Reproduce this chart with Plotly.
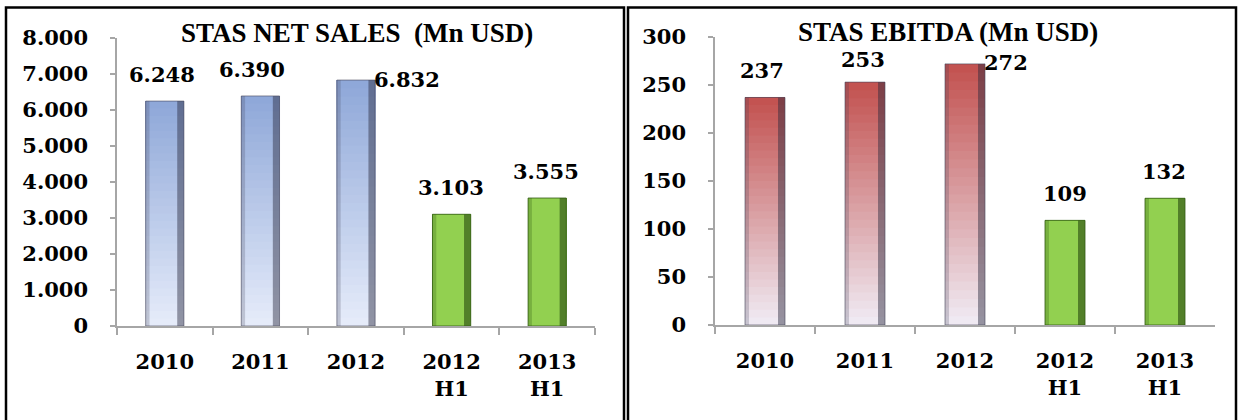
import plotly.graph_objects as go

# ---------------- data ----------------
categories = ["2010", "2011", "2012", "2012<br>H1", "2013<br>H1"]
is_half_year = [False, False, False, True, True]
net_sales = [6248, 6390, 6832, 3103, 3555]
ebitda = [237, 253, 272, 109, 132]
sales_ticks = [0, 1000, 2000, 3000, 4000, 5000, 6000, 7000, 8000]
ebitda_ticks = [0, 50, 100, 150, 200, 250, 300]
title_sales = "STAS NET SALES\u00a0 (Mn USD)"
title_ebitda = "STAS EBITDA (Mn USD)"

# ---------------- styles ----------------
label_place_sales = ["top", "top", "right", "top", "top"]
label_dx_sales = [-3, -8, 0, -1, -1]
label_dy_sales = [0, 0, 0, 0, 0]
label_place_ebitda = ["top", "top", "right", "top", "top"]
label_dx_ebitda = [-3, -2, 0, 0, -1]
label_dy_ebitda = [0, -4, 0, 0, 0]

BLUE_TOP = (142, 167, 216)
BLUE_BOT = (230, 236, 250)
RED_TOP = (194, 80, 78)
RED_BOT = (240, 236, 245)
GREEN = "rgb(146,208,80)"
N_SEG = 30
BAR_W = 0.4
NUM_FONT = dict(family="DejaVu Serif", size=21, color="black", weight="bold")
TITLE_FONT = dict(family="Liberation Serif", size=27, color="black", weight="bold")
AXIS_GREY = "#A6A6A6"


def mix(c1, c2, t):
    return "rgb(%d,%d,%d)" % tuple(round(a + (b - a) * t) for a, b in zip(c1, c2))


def add_bars(fig, values, top, bot, xa, ya):
    # vertical gradient: each layer starts higher and overlays the previous one
    for k in range(N_SEG):
        frac0 = k / N_SEG
        t = (k + 0.5) / N_SEG
        colors = [GREEN if h else mix(bot, top, t) for h in is_half_year]
        fig.add_trace(go.Bar(
            x=categories, y=[v * (1 - frac0) for v in values],
            base=[v * frac0 for v in values],
            width=BAR_W, marker=dict(color=colors, line=dict(width=0)),
            xaxis=xa, yaxis=ya, hoverinfo="skip", showlegend=False))
    # dark right edge and faint left edge (bevel look)
    fig.add_trace(go.Bar(
        x=categories, y=values, width=0.07, offset=BAR_W / 2 - 0.07,
        marker=dict(color=["rgba(30,60,10,0.55)" if h else "rgba(40,40,60,0.45)"
                           for h in is_half_year], line=dict(width=0)),
        xaxis=xa, yaxis=ya, hoverinfo="skip", showlegend=False))
    fig.add_trace(go.Bar(
        x=categories, y=values, width=0.04, offset=-BAR_W / 2,
        marker=dict(color=["rgba(40,80,10,0.25)" if h else "rgba(60,60,80,0.22)"
                           for h in is_half_year], line=dict(width=0)),
        xaxis=xa, yaxis=ya, hoverinfo="skip", showlegend=False))
    # outline
    fig.add_trace(go.Bar(
        x=categories, y=values, width=BAR_W,
        marker=dict(color="rgba(0,0,0,0)",
                    line=dict(width=1, color=["rgba(50,90,20,0.8)" if h else "rgba(70,70,90,0.6)"
                                              for h in is_half_year])),
        xaxis=xa, yaxis=ya, hoverinfo="skip", showlegend=False))


def fmt(v):
    return f"{v:,}".replace(",", ".")


def add_labels(fig, values, places, dxs, dys, xr, yr, half_px):
    for i, (v, p, dx, dy) in enumerate(zip(values, places, dxs, dys)):
        if p == "top":
            fig.add_annotation(x=i, y=v, xref=xr, yref=yr, text=fmt(v), showarrow=False,
                               xanchor="center", yanchor="bottom", xshift=dx, yshift=12 + dy,
                               font=NUM_FONT)
        else:
            fig.add_annotation(x=i, y=v, xref=xr, yref=yr, text=fmt(v), showarrow=False,
                               xanchor="left", yanchor="middle", xshift=half_px - 4, yshift=1 + dy,
                               font=NUM_FONT)


fig = go.Figure()
add_bars(fig, net_sales, BLUE_TOP, BLUE_BOT, "x", "y")
add_bars(fig, ebitda, RED_TOP, RED_BOT, "x2", "y2")

W, H = 1240, 420
add_labels(fig, net_sales, label_place_sales, label_dx_sales, label_dy_sales, "x", "y", 20)
add_labels(fig, ebitda, label_place_ebitda, label_dx_ebitda, label_dy_ebitda, "x2", "y2", 21)

common_x = dict(type="category", categoryorder="array", categoryarray=categories,
                range=[-0.5, 4.5], showline=True, linecolor=AXIS_GREY, linewidth=1.5,
                ticks="outside", ticklen=7, tickcolor=AXIS_GREY, tickwidth=1.5,
                tickson="boundaries", showgrid=False, tickfont=NUM_FONT,
                ticklabelstandoff=16, fixedrange=True, automargin=False)
common_y = dict(showline=True, linecolor=AXIS_GREY, linewidth=1.5, ticks="outside",
                ticklen=5, tickcolor=AXIS_GREY, tickwidth=1.5, showgrid=False,
                zeroline=False, tickfont=NUM_FONT, tickformat=",d",
                ticklabelstandoff=18, fixedrange=True, automargin=False)

fig.update_layout(
    width=W, height=H, autosize=False,
    margin=dict(l=0, r=0, t=0, b=0, autoexpand=False),
    paper_bgcolor="white", plot_bgcolor="white",
    barmode="overlay", showlegend=False, separators=",.",
    xaxis=dict(domain=[117 / W, 595 / W], anchor="y", **common_x),
    yaxis=dict(domain=[1 - 326 / H, 1 - 38 / H], anchor="x", range=[0, 8000],
               tickvals=sales_ticks, **common_y),
    xaxis2=dict(domain=[715 / W, 1215 / W], anchor="y2", **common_x),
    yaxis2=dict(domain=[1 - 325 / H, 1 - 37 / H], anchor="x2", range=[0, 300],
                tickvals=ebitda_ticks, **common_y),
)

fig.add_annotation(x=357 / W, y=1 - 33 / H, xref="paper", yref="paper", text=title_sales,
                   showarrow=False, xanchor="center", yanchor="middle", font=TITLE_FONT)
fig.add_annotation(x=948 / W, y=1 - 32 / H, xref="paper", yref="paper", text=title_ebitda,
                   showarrow=False, xanchor="center", yanchor="middle", font=TITLE_FONT)

# panel frames
fig.add_shape(type="rect", xref="paper", yref="paper", x0=6 / W, x1=624 / W,
              y0=-0.2, y1=1 - 7.5 / H, line=dict(color="black", width=2.5))
fig.add_shape(type="rect", xref="paper", yref="paper", x0=628 / W, x1=1236 / W,
              y0=-0.2, y1=1 - 7.5 / H, line=dict(color="black", width=2.5))

fig.write_html("out.html", config={"displayModeBar": False},
               post_script="document.body.style.margin='0';document.body.style.overflow='hidden';")
